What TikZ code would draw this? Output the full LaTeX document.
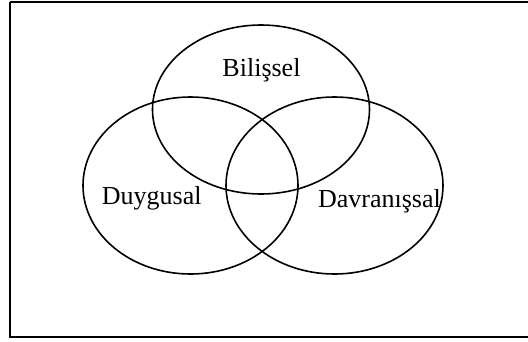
\documentclass[tikz,border=0pt]{standalone}
\usepackage{fontspec}
\setmainfont{Liberation Serif}
\usetikzlibrary{shapes.geometric}
\tikzset{
  venn/.style={draw=black, ellipse, line width=1.6pt, inner sep=0pt},
  lbl/.style={anchor=base, inner sep=0pt, font=\fontsize{26}{30}\selectfont}
}
\begin{document}
\begin{tikzpicture}[x=1pt,y=-1pt]
\useasboundingbox (0,0) rectangle (528,341);
\begin{scope}
\clip (0,0) rectangle (528,341);
\draw[line width=1.6pt] (10,2) -- (600,2) (10,2) -- (10,337) -- (600,337);
\end{scope}
\node[venn, minimum width=217pt, minimum height=169pt] (bil) at (261,109.5) {};
\node[venn, minimum width=215pt, minimum height=177pt] (duy) at (190.5,185.5) {};
\node[venn, minimum width=217pt, minimum height=177pt] (dav) at (334.5,185.5) {};
\node[lbl] (tbil) at (261.5,76) {Bilişsel};
\node[lbl] (tduy) at (151.7,204) {Duygusal};
\node[lbl] (tdav) at (379.5,207) {Davranışsal};
\end{tikzpicture}
\end{document}
